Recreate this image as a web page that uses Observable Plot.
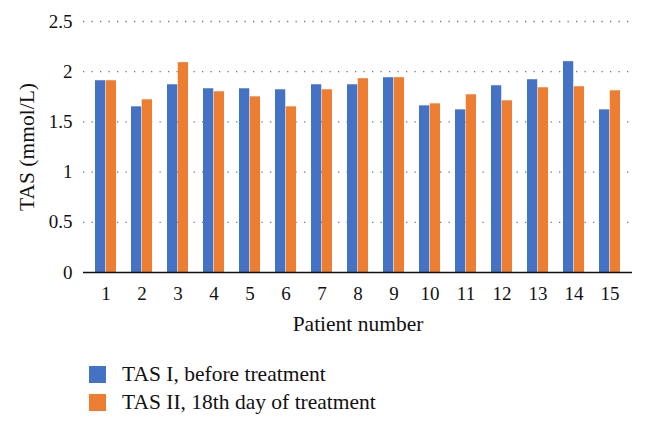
<!DOCTYPE html>
<html>
<head>
<meta charset="utf-8">
<script src="https://cdn.jsdelivr.net/npm/d3@7"></script>
<script src="https://cdn.jsdelivr.net/npm/@observablehq/plot@0.6"></script>
<style>
  html, body { margin: 0; padding: 0; background: #fff; }
  #wrap { position: relative; width: 646px; height: 428px; font-family: "Liberation Serif", "DejaVu Serif", serif; }
  #wrap svg text { font-family: "Liberation Serif", "DejaVu Serif", serif; }
  .leg { position: absolute; left: 89px; display: flex; align-items: center; font-size: 21.5px; color: #111; white-space: nowrap; }
  .sw { width: 17px; height: 17px; margin-right: 16px; }
</style>
</head>
<body>
<div id="wrap"></div>
<script>
const patients = ["1","2","3","4","5","6","7","8","9","10","11","12","13","14","15"];
const tasI  = [1.91, 1.65, 1.87, 1.83, 1.83, 1.82, 1.87, 1.87, 1.94, 1.66, 1.62, 1.86, 1.92, 2.10, 1.62];
const tasII = [1.91, 1.72, 2.09, 1.80, 1.75, 1.65, 1.82, 1.93, 1.94, 1.68, 1.77, 1.71, 1.84, 1.85, 1.81];
const seriesNames = ["TAS I, before treatment", "TAS II, 18th day of treatment"];
const seriesColors = ["#4472C4", "#ED7D31"];
const yTicks = [0, 0.5, 1, 1.5, 2, 2.5];

const rowsI = patients.map((p, i) => ({patient: p, value: tasI[i]}));
const rowsII = patients.map((p, i) => ({patient: p, value: tasII[i]}));

const chart = Plot.plot({
  width: 646,
  height: 340,
  marginLeft: 83,
  marginRight: 14,
  marginTop: 21,
  marginBottom: 68,
  style: {fontFamily: "'Liberation Serif', 'DejaVu Serif', serif", fontSize: "19px", color: "#111", background: "#fff"},
  x: {domain: patients, paddingInner: 0.413, paddingOuter: 0.2065, align: 0.5, label: "Patient number", labelAnchor: "center", tickSize: 0, tickPadding: 14, labelOffset: 58},
  y: {domain: [0, 2.5], ticks: yTicks, tickFormat: d => String(d), tickSize: 0, tickPadding: 11, label: "TAS (mmol/L)", labelAnchor: "center", labelOffset: 65},
  marks: [
    Plot.ruleY(yTicks.filter(d => d > 0), {stroke: "#777", strokeWidth: 1.3, strokeDasharray: "1.3,7.2"}),
    Plot.barY(rowsI, {x: "patient", y: "value", fill: seriesColors[0], insetRight: 10.75}),
    Plot.barY(rowsII, {x: "patient", y: "value", fill: seriesColors[1], insetLeft: 10.75}),
    Plot.ruleY([0], {stroke: "#111", strokeWidth: 1.6})
  ]
});
const wrap = document.getElementById("wrap");
wrap.appendChild(chart);
chart.querySelectorAll("text").forEach(t => {
  const s = t.textContent;
  if (s.includes("Patient number")) { t.textContent = "Patient number"; t.style.fontSize = "21.5px"; }
  else if (s.includes("TAS (mmol/L)")) { t.textContent = "TAS (mmol/L)"; t.style.fontSize = "21.5px"; }
});

seriesNames.forEach((name, i) => {
  const row = document.createElement("div");
  row.className = "leg";
  row.style.top = (362 + i * 28) + "px";
  const sw = document.createElement("div");
  sw.className = "sw";
  sw.style.background = seriesColors[i];
  const tx = document.createElement("span");
  tx.textContent = name;
  row.appendChild(sw);
  row.appendChild(tx);
  wrap.appendChild(row);
});
</script>
</body>
</html>
